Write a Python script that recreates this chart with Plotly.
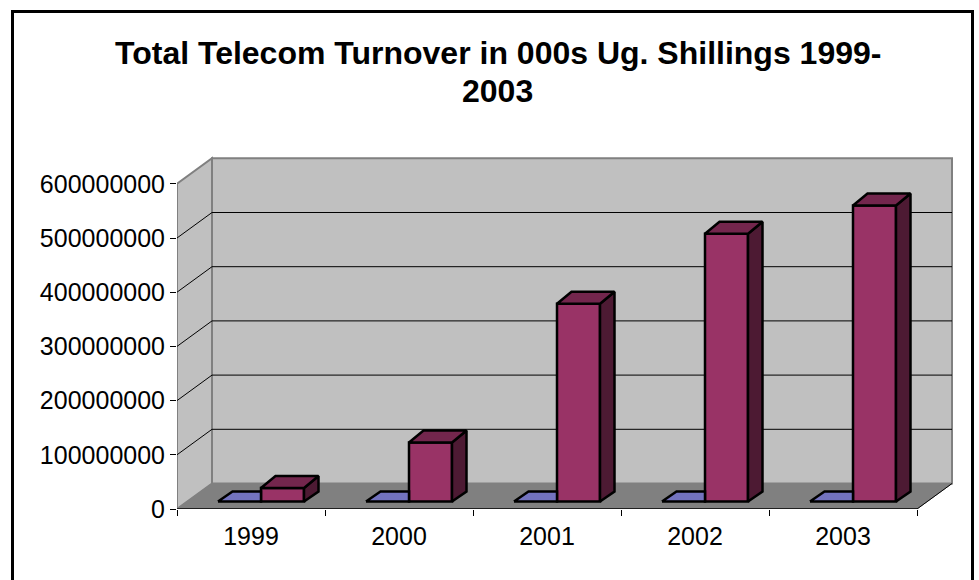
import plotly.graph_objects as go

years = [1999, 2000, 2001, 2002, 2003]
series_blue = [0, 0, 0, 0, 0]
series_turnover = [25000000, 109000000, 365000000, 494000000, 546000000]
y_ticks = [0, 100000000, 200000000, 300000000, 400000000, 500000000, 600000000]
title_lines = ["Total Telecom Turnover in 000s Ug. Shillings 1999-", "2003"]

WIDTH, HEIGHT = 979, 580
LEFT, RIGHT, TOP, BOTTOM = 177, 955, 155, 509

# pixel sizes of one data unit, excel's fake 3d is drawn from these
PX_PER_YEAR = 148
PX_PER_VALUE = 54.2 / 100000000
X0 = min(years) - 0.5
X1 = max(years) + 0.5
X_MAX = X0 + (RIGHT - LEFT) / PX_PER_YEAR
Y_MAX = (BOTTOM - TOP) / PX_PER_VALUE


def dx(px):
    return px / PX_PER_YEAR


def dy(px):
    return px / PX_PER_VALUE


def paper_x(px):
    return (px - LEFT) / (RIGHT - LEFT)


def paper_y(px):
    return (BOTTOM - px) / (BOTTOM - TOP)


WALL_X, WALL_Y = dx(35), dy(25.5)
BAR_BASE = dy(7.5)
BAR_DX, BAR_DY = dx(14.5), dy(12)
BLUE_DY = dy(10)
BAR_OFFSET, BAR_WIDTH = dx(10), dx(43)
BLUE_OFFSET = dx(-33)

WALL = "#c0c0c0"
FLOOR = "#808080"
MAROON = "#993366"
MAROON_TOP = "#73264d"
MAROON_SIDE = "#4d1a33"
BLUE_TOP = "#7373bf"


def polygon_trace(polys, color):
    xs, ys = [], []
    for poly in polys:
        xs += [p[0] for p in poly] + [poly[0][0], None]
        ys += [p[1] for p in poly] + [poly[0][1], None]
    return go.Scatter(x=xs, y=ys, mode="lines", fill="toself", fillcolor=color,
                      line=dict(color="black", width=2.5), hoverinfo="skip", showlegend=False)


def path(points):
    return "M " + " L ".join(f"{x},{y}" for x, y in points) + " Z"


shapes = []
# outer chart frame, runs off the bottom of the page
shapes.append(dict(type="rect", xref="paper", yref="paper",
                   x0=paper_x(12.5), x1=paper_x(972.5), y0=paper_y(620), y1=paper_y(11.5),
                   line=dict(color="black", width=3), layer="below"))
# walls and floor
wall_edge = dict(color=FLOOR, width=2)
shapes.append(dict(type="path", layer="below", fillcolor=WALL, line=wall_edge,
                   path=path([(X0 + WALL_X, WALL_Y), (X1 + WALL_X, WALL_Y),
                              (X1 + WALL_X, 600000000 + WALL_Y), (X0 + WALL_X, 600000000 + WALL_Y)])))
shapes.append(dict(type="path", layer="below", fillcolor=WALL, line=wall_edge,
                   path=path([(X0, 0), (X0 + WALL_X, WALL_Y),
                              (X0 + WALL_X, 600000000 + WALL_Y), (X0, 600000000)])))
shapes.append(dict(type="path", layer="below", fillcolor=FLOOR, line=dict(color=FLOOR, width=1),
                   path=path([(X0, 0), (X1, 0), (X1 + WALL_X, WALL_Y), (X0 + WALL_X, WALL_Y)])))
shapes.append(dict(type="line", layer="below", line=dict(color="black", width=1),
                   x0=X1, y0=0, x1=X1 + WALL_X, y1=WALL_Y))
# gridlines on back and side wall
for v in y_ticks[1:-1]:
    grid = dict(color="black", width=1)
    shapes.append(dict(type="line", layer="below", line=grid,
                       x0=X0 + WALL_X, x1=X1 + WALL_X, y0=v + WALL_Y, y1=v + WALL_Y))
    shapes.append(dict(type="line", layer="below", line=grid,
                       x0=X0, x1=X0 + WALL_X, y0=v, y1=v + WALL_Y))

fig = go.Figure()

# front faces
fig.add_trace(go.Bar(x=years, y=series_turnover, base=[BAR_BASE] * len(years),
                     width=BAR_WIDTH, offset=BAR_OFFSET,
                     marker=dict(color=MAROON, line=dict(color="black", width=2.5)),
                     showlegend=False, name="Turnover"))

# flat blue series, only its top face shows and the bar hides its back corner
blue_polys = []
for year, v in zip(years, series_blue):
    l, r = year + BLUE_OFFSET, year + BAR_OFFSET
    y = BAR_BASE + v
    blue_polys.append([(l, y), (r, y), (r, y + BLUE_DY), (l + BAR_DX, y + BLUE_DY)])
fig.add_trace(polygon_trace(blue_polys, BLUE_TOP))

top_polys, side_polys = [], []
for year, v in zip(years, series_turnover):
    l, r = year + BAR_OFFSET, year + BAR_OFFSET + BAR_WIDTH
    y = BAR_BASE + v
    top_polys.append([(l, y), (r, y), (r + BAR_DX, y + BAR_DY), (l + BAR_DX, y + BAR_DY)])
    side_polys.append([(r, BAR_BASE), (r + BAR_DX, BAR_BASE + BLUE_DY),
                       (r + BAR_DX, y + BAR_DY), (r, y)])
fig.add_trace(polygon_trace(side_polys, MAROON_SIDE))
fig.add_trace(polygon_trace(top_polys, MAROON_TOP))

# front edge of the floor (x axis line)
fig.add_trace(go.Scatter(x=[X0, X1], y=[0, 0], mode="lines", cliponaxis=False,
                         line=dict(color="black", width=1.5), hoverinfo="skip", showlegend=False))
# invisible trace keeps the tick axis alive
fig.add_trace(go.Scatter(x=[X0], y=[0], xaxis="x2", mode="markers", marker=dict(opacity=0),
                         hoverinfo="skip", showlegend=False))

title_rows = [53, 91]
annotations = [dict(text=f"<b>{line}</b>", xref="paper", yref="paper",
                    x=paper_x(497.5), y=paper_y(row), showarrow=False,
                    xanchor="center", yanchor="middle",
                    font=dict(family="Liberation Sans", size=32, color="black"))
               for line, row in zip(title_lines, title_rows)]

fig.update_layout(
    width=WIDTH,
    height=HEIGHT,
    margin=dict(l=LEFT, r=WIDTH - RIGHT, t=TOP, b=HEIGHT - BOTTOM),
    paper_bgcolor="white",
    plot_bgcolor="white",
    font=dict(family="Liberation Sans", color="black", size=25),
    shapes=shapes,
    xaxis=dict(range=[X0, X_MAX], tickmode="array", tickvals=years,
               ticktext=[str(y) for y in years], ticks="", showgrid=False,
               zeroline=False, showline=False, ticklabelstandoff=10),
    xaxis2=dict(range=[X0, X_MAX], overlaying="x", anchor="y", side="bottom",
                tickmode="array", tickvals=[y - 0.5 for y in years] + [X1],
                ticks="outside", ticklen=6, tickwidth=1, tickcolor="black",
                showticklabels=False, showgrid=False, zeroline=False, showline=False),
    yaxis=dict(range=[0, Y_MAX], tickmode="array", tickvals=y_ticks,
               ticktext=[str(v) for v in y_ticks], ticks="outside", ticklen=6,
               tickwidth=1, tickcolor="black", showgrid=False, zeroline=False,
               showline=False),
    annotations=annotations,
)

# the default page margin would push the figure 8px off the window
fig.write_html("out.html", config=dict(displayModeBar=False),
               post_script="document.body.style.margin = '0';")
